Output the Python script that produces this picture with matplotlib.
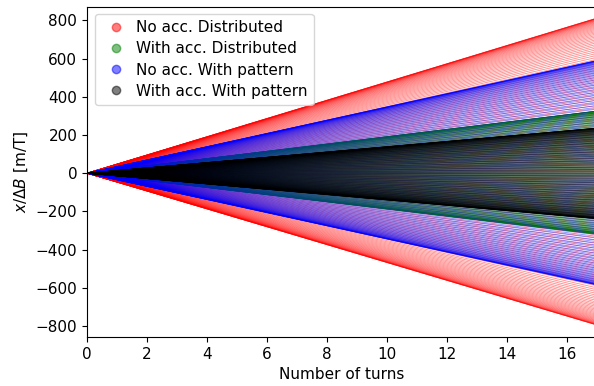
import numpy as np
import matplotlib
matplotlib.use("Agg")
import matplotlib.pyplot as plt
from matplotlib.lines import Line2D

plt.rcParams["font.size"] = 11

# series: label, colour, upper / lower envelope at the last turn
labels = ["No acc. Distributed", "With acc. Distributed", "No acc. With pattern", "With acc. With pattern"]
colors = ["red", "green", "blue", "black"]
upper_end = [812, 325, 590, 236]
lower_end = [-795, -318, -585, -238]
n_lines = [160, 160, 160, 160]

last_turn = 17
turns = np.linspace(0, last_turn, 341)

fig = plt.figure(figsize=(5.94, 3.86), dpi=100)
ax = fig.add_axes([0.1465, 0.127, 0.858, 0.856])

for lab, col, hi, lo, n in zip(labels, colors, upper_end, lower_end, n_lines):
    # particles spread over phase, so the lines bunch up at the envelope
    phase = np.linspace(0, np.pi, n)
    mid = (hi + lo) / 2
    half = (hi - lo) / 2
    ends = mid + half * np.cos(phase)
    for e in ends:
        ax.plot(turns, e / last_turn * turns, color=col, lw=0.6, alpha=0.45)

ax.set_xlim(0, last_turn)
ax.set_ylim(-858, 873)
ax.set_xticks(np.arange(0, 17, 2))
ax.set_yticks(np.arange(-800, 801, 200))
ax.set_xlabel("Number of turns")
ax.set_ylabel(r"$x/\Delta B$ [m/T]")

handles = [Line2D([], [], ls="", marker="o", color=c, alpha=0.5, markersize=6) for c in colors]
ax.legend(handles, labels, loc="upper left", handletextpad=0.3, labelspacing=0.4)

fig.savefig("out.png", dpi=100)
